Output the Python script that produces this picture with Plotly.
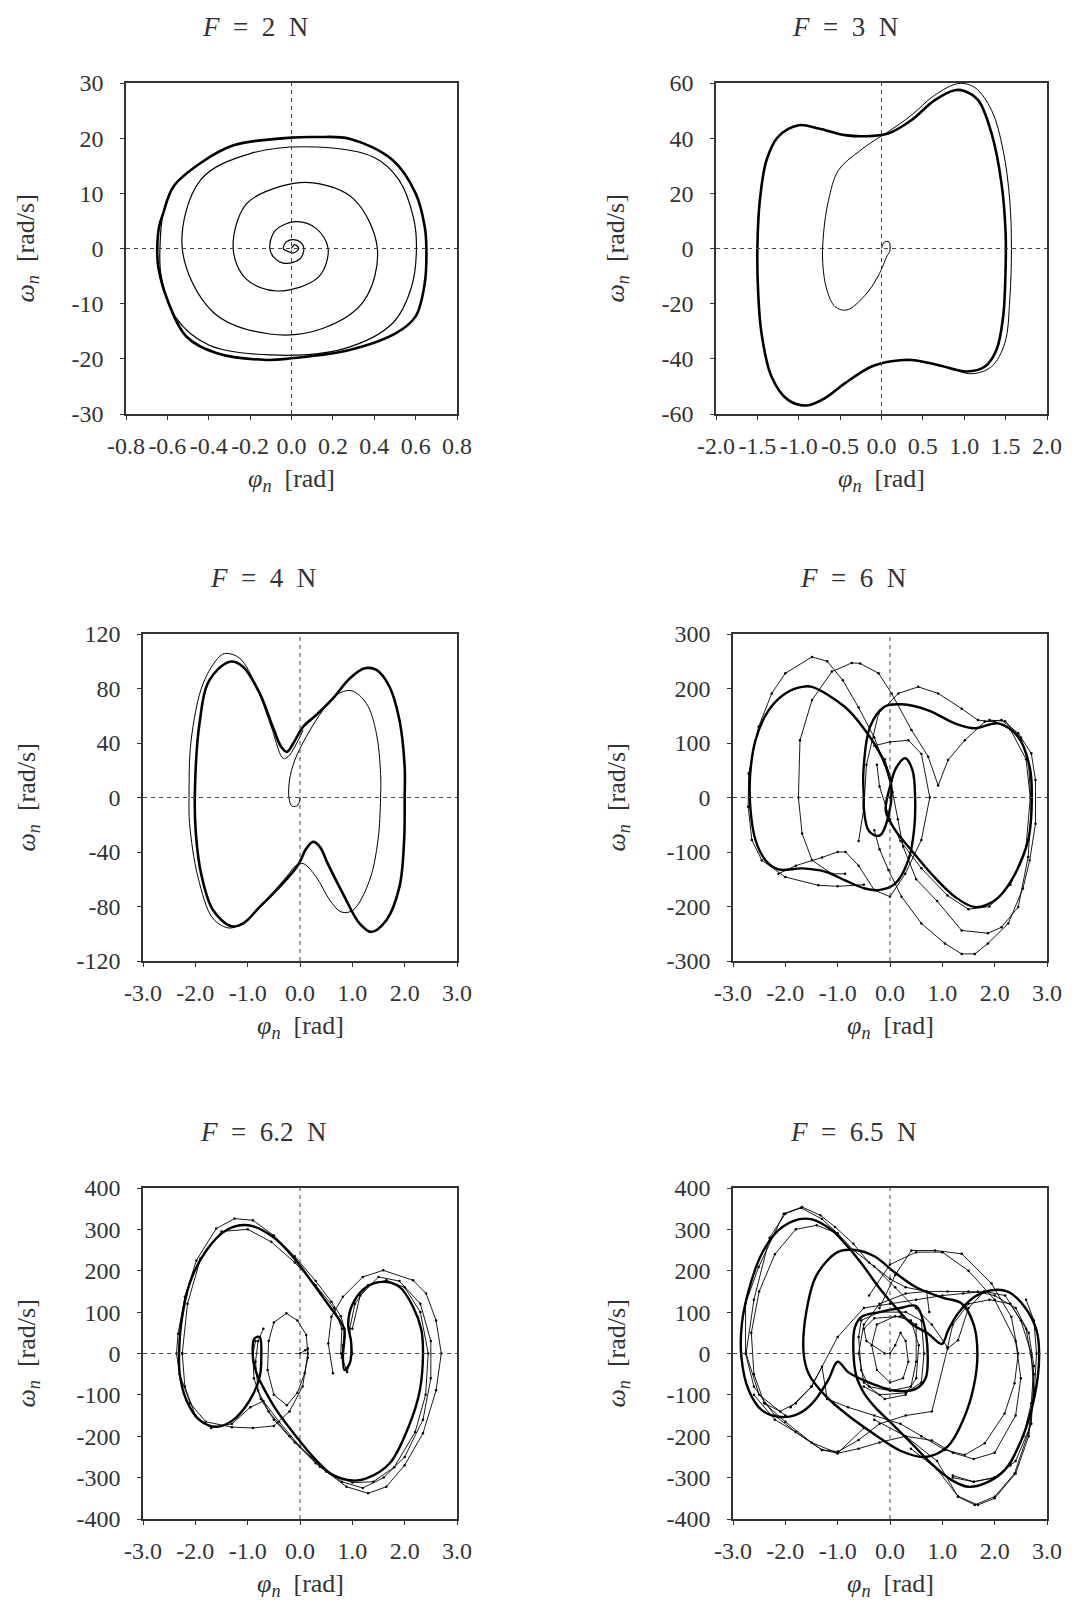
import plotly.graph_objects as go

# ---------------- data ----------------
# F = 2 N
f2_spiral_phi = [0.0, 0.015, 0.035, 0.01, -0.025, -0.04, -0.025, 0.01, 0.045, 0.06, 0.04, -0.03, -0.085, -0.105,
                 -0.08, 0.02, 0.12, 0.177, 0.13, -0.07, -0.22, -0.282, -0.22, -0.05, 0.105, 0.30, 0.415, 0.35, 0.15,
                 -0.105, -0.38, -0.528, -0.44, -0.2, 0.12, 0.4, 0.52, 0.59, 0.604, 0.58, 0.49, 0.25, -0.1, -0.4,
                 -0.56, -0.63, -0.636, -0.62, -0.571, -0.443, -0.28, 0.0]
f2_spiral_omega = [0.0, 0.7, 0.0, -0.8, -0.4, 0.0, 1.2, 1.6, 1.1, 0.0, -1.9, -2.7, -1.6, 0.0,
                   3.2, 4.86, 3.6, 0.0, -5.2, -7.7, -5.5, 0.0, 8.0, 11.3, 11.9, 9.0, 0.0, -9.5, -14.5,
                   -15.5, -11.5, 0.0, 12.4, 17.2, 18.4, 16.5, 12.4, 5.5, 0.0, -7.0, -13.5, -18.2, -19.3, -17.5,
                   -12.5, -5.0, 0.0, 6.4, 11.2, 15.4, 18.7, 20.0]
f2_cycle_phi = [-0.649, -0.64, -0.62, -0.571, -0.443, -0.28, 0.0, 0.12, 0.28, 0.49, 0.60, 0.644, 0.652, 0.644,
                0.60, 0.507, 0.28, 0.0, -0.12, -0.36, -0.507, -0.60, -0.644, -0.649]
f2_cycle_omega = [0.0, 3.95, 6.4, 11.2, 15.4, 18.7, 20.1, 20.2, 19.9, 16.0, 10.0, 3.95, 0.0, -6.3,
                  -12.3, -15.3, -18.4, -19.9, -20.2, -19.0, -16.0, -9.3, -3.3, 0.0]

# F = 3 N
f3_cycle_phi = [-1.50, -1.47, -1.39, -1.25, -1.0, -0.76, -0.44, -0.2, 0.08, 0.36, 0.64, 0.885, 1.0, 1.17, 1.33,
                1.45, 1.50, 1.50, 1.47, 1.39, 1.25, 1.03, 0.68, 0.36, 0.12, -0.12, -0.44, -0.68, -0.905, -1.13,
                -1.33, -1.45, -1.49, -1.50]
f3_cycle_omega = [0.0, 17.5, 32.0, 40.5, 44.7, 43.5, 41.1, 40.7, 41.7, 46.5, 53.7, 57.4, 57.1, 53.7, 41.7,
                  23.6, 5.5, -6.6, -24.7, -36.7, -42.8, -44.6, -42.2, -40.4, -40.9, -42.8, -48.8, -54.2, -56.9, -54.9,
                  -46.4, -30.7, -16.2, 0.0]
f3_trans_phi = [0.0, 0.03, 0.09, 0.10, 0.07, -0.04, -0.2, -0.42, -0.56, -0.66, -0.71, -0.70, -0.64, -0.52, -0.28,
                -0.08, 0.08, 0.36, 0.64, 0.93, 1.13, 1.33, 1.47, 1.55, 1.57, 1.55, 1.49, 1.33, 1.09, 0.76, 0.36]
f3_trans_omega = [0.0, 2.2, 2.4, -1.0, -2.5, -10.0, -17.0, -22.3, -21.1, -15.0, -5.4, 5.5, 17.5, 28.4, 35.0,
                  39.3, 42.3, 48.3, 55.5, 59.8, 58.3, 50.1, 35.6, 17.5, 0.0, -18.6, -34.3, -42.8, -45.4, -42.8, -40.4]

# F = 4 N
f4_cycle_phi = [-2.01, -1.92, -1.73, -1.34, -1.09, -0.77, -0.52, -0.36, -0.25, -0.13, 0.06, 0.31, 0.63, 0.95,
                1.24, 1.46, 1.71, 1.90, 2.0, 2.0, 1.99, 1.90, 1.65, 1.36, 1.14, 0.82, 0.53, 0.38, 0.25, 0.12,
                -0.04, -0.39, -0.77, -1.09, -1.31, -1.66, -1.89, -1.99, -2.01]
f4_cycle_omega = [0.0, 54.4, 86.2, 99.7, 96.0, 76.4, 51.9, 37.2, 33.5, 39.7, 51.9, 60.5, 72.7, 87.4,
                  94.8, 93.6, 81.3, 56.8, 22.5, 0.0, -31.3, -65.6, -90.1, -98.7, -92.6, -70.5, -48.5, -36.2, -32.6,
                  -37.5, -49.7, -65.6, -80.3, -92.6, -94.5, -82.8, -55.8, -26.5, 0.0]
f4_trans_phi = [0.0, -0.04, -0.15, -0.21, -0.2, -0.1, 0.12, 0.44, 0.69, 0.98, 1.27, 1.46, 1.54, 1.54, 1.49,
                1.33, 1.01, 0.79, 0.57, 0.31, 0.06, -0.07, -0.26, -0.71, -1.03, -1.34, -1.66, -1.95, -2.11,
                -2.12, -2.08, -1.85, -1.54, -1.41, -1.15, -0.83, -0.55, -0.32, -0.23, -0.1, 0.06]
f4_trans_omega = [0.0, -5.6, -6.4, -0.7, 12.7, 27.4, 44.6, 64.2, 75.2, 78.4, 69.0, 47.0, 17.6, 0.0, -31.3,
                  -60.7, -82.8, -84.0, -75.4, -58.3, -48.5, -49.7, -58.3, -77.9, -90.1, -95.8, -88.9, -58.3, -19.1,
                  0.0, 42.1, 83.8, 103.4, 105.8, 102.1, 81.3, 51.9, 28.7, 29.9, 37.2, 49.5]

# F = 6 N
f6_main_phi = [-0.5, -0.51, -0.38, -0.1, 0.22, 0.73, 1.24, 1.62, 2.07, 2.45, 2.67, 2.71, 2.64, 2.32, 2.0, 1.62,
               1.24, 0.79, 0.41, 0.1, -0.08, 0.0, 0.12, 0.29, 0.43, 0.48, 0.46, 0.35, 0.1, -0.22, -0.48, -0.86,
               -1.24, -1.68, -2.13, -2.38, -2.57, -2.67, -2.67, -2.57, -2.32, -2.0, -1.68, -1.49, -0.86, -0.48,
               -0.16, 0.02, -0.02, -0.2, -0.4, -0.5, -0.5]
f6_main_omega = [0, 44, 130, 167, 171, 160, 136, 127, 136, 111, 56, 0, -78, -152, -189, -201,
                 -182, -140, -97, -60, -25, 20, 55, 72, 50, 0, -60, -115, -158, -170, -167, -152,
                 -136, -130, -132, -115, -78, -17, 44, 105, 160, 191, 203, 203, 166, 124,
                 75, 25, -30, -70, -62, -20, 0]
f6_t1_phi = [-0.86, -1.11, -1.49, -1.68, -1.75, -1.72, -1.49, -1.11, -0.73, -0.57, -0.22, 0.03, 0.41, 0.73,
             0.92, 1.11, 1.43, 1.81, 2.13, 2.45, 2.70, 2.78, 2.78, 2.67, 2.54, 2.26, 1.87, 1.62, 1.37, 1.05,
             0.6, 0.22, -0.03, -0.2, -0.3]
f6_t1_omega = [-140, -140, -115, -66, 0, 105, 179, 231, 247, 246, 228, 191, 124, 75,
               22, 69, 105, 139, 142, 118, 81, 32, -48, -115, -167, -231, -268, -287, -287, -268,
               -231, -182, -133, -95, -60]
f6_t2_phi = [-0.5, -1.0, -1.37, -2.0, -2.45, -2.64, -2.71, -2.7, -2.51, -2.26, -2.0, -1.49, -1.2, -0.9, -0.6,
             -0.3, -0.1, 0.05, 0.15, 0.25, 0.5, 0.9, 1.37, 1.87, 2.13, 2.45, 2.64, 2.7, 2.65, 2.5, 2.2, 1.9]
f6_t2_omega = [-160, -163, -161, -146, -115, -78, -17, 44, 130, 191, 228, 258, 250, 215, 165,
               110, 60, 10, -40, -90, -150, -190, -244, -249, -238, -201, -109, -20, 60, 110, 140, 142]
f6_t3_phi = [0.0, 0.03, -0.1, -0.3, 0.0, 0.35, 0.6, 0.76, 0.6, 0.29, 0.0, -0.3, -0.6, -0.85, -1.0, -1.3,
             -1.8, -2.13]
f6_t3_omega = [0, 30, 70, 95, 102, 105, 80, 0, -78, -140, -182, -170, -125, -100, -100, -110,
               -125, -140]
f6_t4_phi = [-0.6, -0.5, -0.45, -0.22, 0.16, 0.54, 0.92, 1.37, 1.68, 2.0, 2.3, 2.6, 2.68, 2.6, 2.3, 1.9, 1.5,
             1.1, 0.6, 0.2, 0.0, -0.2, -0.25]
f6_t4_omega = [-80, -20, 60, 154, 191, 203, 191, 163, 142, 139, 125, 70, 0, -90, -160, -200, -205,
               -180, -130, -80, -40, 20, 60]

# F = 6.2 N
f62_main_phi = [-0.99, -0.52, -0.13, 0.25, 0.57, 0.76, 0.85, 0.82, 0.85, 0.95, 0.98, 0.92, 1.01, 1.27, 1.59,
                1.90, 2.16, 2.32, 2.35, 2.29, 2.10, 1.71, 1.27, 1.01, 0.63, 0.31, -0.07, -0.45, -0.71, -0.83,
                -0.90, -0.87, -0.77, -0.74, -0.77, -0.96, -1.28, -1.60, -1.92, -2.17, -2.30, -2.31, -2.27, -2.11,
                -1.79, -1.41, -0.99]
f62_main_omega = [310, 282, 233, 169, 113, 80, 56, -8, -40, -24, 24, 72, 121, 161, 173,
                  161, 113, 56, 0, -89, -169, -266, -302, -307, -294, -258, -201, -137, -80, -48,
                  -8, 36, 40, -8, -56, -113, -161, -177, -161, -113, -48, 0, 72, 169,
                  249, 298, 310]
f62_t1_phi = [0.0, 0.1, 0.15, 0.15, 0.09, -0.05, -0.25, -0.5, -0.62, -0.6, -0.5, -0.26, -0.05, 0.12, 0.15,
              0.05, -0.2, -0.5, -0.9, -1.3, -1.8, -2.1, -2.3, -2.36, -2.33, -2.2, -1.98, -1.6, -1.25, -0.9,
              -0.5, -0.1, 0.3, 0.6, 0.78, 0.85, 0.82, 0.8]
f62_t1_omega = [0, 8, 12, -10, -48, -95, -125, -100, -40, 30, 75, 97, 80, 45, 0,
                -80, -140, -175, -180, -178, -165, -120, -50, 0, 48, 137, 225, 302, 326, 322,
                285, 235, 175, 125, 90, 60, 20, -10]
f62_t2_phi = [0.63, 0.54, 0.6, 0.82, 1.2, 1.59, 2.16, 2.41, 2.6, 2.7, 2.6, 2.35, 2.0, 1.65, 1.3, 0.89, 0.38,
              -0.1, -0.5, -0.75, -0.88, -0.9, -0.85]
f62_t2_omega = [-48, 24, 89, 137, 185, 201, 177, 145, 80, 0, -89, -193, -270, -322, -338, -322, -274,
                -215, -160, -110, -60, 0, 30]
f62_t3_phi = [-2.25, -2.15, -1.9, -1.5, -1.0, -0.55, -0.1, 0.3, 0.65, 0.8, 0.78, 0.9, 1.0, 0.95, 1.05, 1.3,
              1.65, 2.0, 2.3, 2.45, 2.4, 2.2, 1.8, 1.4, 1.0, 0.5, 0.0, -0.4, -0.7, -0.95, -1.3, -1.7, -2.0,
              -2.2, -2.25]
f62_t3_omega = [0, 120, 230, 295, 300, 270, 220, 165, 110, 60, 0, -45, 0, 60, 120, 165,
                177, 160, 100, 0, -100, -190, -275, -310, -312, -285, -225, -165, -115, -130, -170, -180, -150,
                -80, 0]
f62_t4_phi = [1.0, 1.15, 1.5, 1.9, 2.3, 2.5, 2.5, 2.35, 2.0, 1.6, 1.2, 0.8, 0.3, -0.2, -0.6, -0.8, -0.85,
              -0.8, -0.7]
f62_t4_omega = [60, 140, 185, 175, 120, 30, -60, -160, -250, -300, -325, -310, -265, -200, -140, -90, -20,
                30, 60]

# F = 6.5 N
f65_a_phi = [-1.0, -1.18, -1.49, -1.81, -2.13, -2.45, -2.70, -2.84, -2.83, -2.70, -2.45, -2.13, -1.75, -1.49,
             -1.11, -0.86, -0.54, -0.22, 0.1, 0.41, 0.73, 0.99, 1.11, 1.30, 1.62, 1.94, 2.26, 2.57, 2.80, 2.85,
             2.76, 2.51, 2.19, 1.81, 1.49, 1.18, 0.79, 0.41, 0.03, -0.29, -0.5, -0.64, -0.70, -0.67, -0.54,
             -0.2, 0.2, 0.5, 0.65, 0.72, 0.68, 0.5, 0.1, -0.3, -0.55, -0.8, -1.0]
f65_a_omega = [-20, -64, -121, -149, -153, -137, -89, -8, 72, 153, 241, 298, 324, 324,
               298, 266, 217, 161, 113, 72, 48, 23, 56, 97, 137, 153, 149, 113, 56, -8,
               -105, -209, -282, -314, -322, -306, -266, -217, -169, -129, -95, -56, 8, 64, 89,
               100, 110, 115, 70, 0, -60, -85, -90, -75, -62, -45, -20]
f65_b_phi = [-1.65, -1.6, -1.4, -1.0, -0.67, -0.3, 0.1, 0.5, 1.0, 1.37, 1.6, 1.67, 1.6, 1.4, 1.1, 0.67, 0.2,
             -0.3, -0.8, -1.25, -1.55, -1.65]
f65_b_omega = [0, 100, 190, 245, 250, 235, 195, 160, 135, 121, 70, 0, -80, -160, -225, -250, -235,
               -195, -150, -100, -50, 0]
f65_t1_phi = [0.0, 0.1, 0.2, 0.3, 0.35, 0.25, 0.0, -0.25, -0.35, -0.25, 0.1, 0.4, 0.55, 0.5, 0.3, -0.1, -0.5,
              -0.6, -0.5, -0.2, 0.3, 0.7, 0.75]
f65_t1_omega = [0, 20, 50, 30, -20, -60, -70, -40, 20, 70, 90, 80, 20, -60, -100, -110, -70,
                0, 70, 120, 145, 150, 100]
f65_t2_phi = [-2.0, -2.5, -2.75, -2.6, -2.3, -2.0, -1.7, -1.3, -1.0, -0.7, -0.3, 0.1, 0.5, 0.8, 1.1, 1.2, 1.5,
              1.9, 2.3, 2.6, 2.75, 2.7, 2.4, 2.0, 1.6, 1.2]
f65_t2_omega = [-150, -100, 0, 130, 280, 338, 352, 325, 290, 250, 210, 160, 110, 70, 15, 70, 120,
                130, 120, 60, -50, -170, -260, -300, -310, -295]
f65_t3_phi = [-0.4, 0.0, 0.5, 1.0, 1.5, 2.0, 2.4, 2.5, 2.4, 2.0, 1.6, 1.2, 0.8, 0.3, -0.2, -0.6, -1.0, -1.5,
              -2.0, -2.4]
f65_t3_omega = [140, 215, 245, 245, 200, 130, 30, -60, -150, -240, -255, -240, -210, -200, -215, -230,
                -241, -215, -165, -120]
f65_t4_phi = [0.4, 0.9, 1.3, 1.68, 2.0, 2.4, 2.65, 2.75, 2.7, 2.5, 2.2, 1.8, 1.4, 1.0, 0.5, 0.0, -0.5, -1.0,
              -1.5, -1.9]
f65_t4_omega = [-230, -280, -345, -366, -350, -290, -200, -100, 0, 80, 140, 150, 145, 140, 130, 120,
                110, 40, -80, -130]
f65_t5_phi = [-0.5, -1.0, -1.3, -1.8, -2.2, -2.6, -2.76, -2.76, -2.51, -2.03, -1.68, -1.33, -1.05, -0.7, -0.4,
              0.0, 0.3, 0.7, 1.1, 1.5, 1.68, 2.0, 2.4, 2.65, 2.75, 2.7, 2.55, 2.3, 2.0, 1.6, 1.2]
f65_t5_omega = [-180, -241, -233, -190, -150, -80, 0, 121, 209, 338, 354, 334, 306, 265, 220,
                180, 160, 150, 150, 150, 149, 140, 110, 50, -30, -120, -200, -270, -300, -310, -300]
f65_t6_phi = [-0.2, 0.1, 0.41, 0.86, 1.37, 1.94, 2.32, 2.45, 2.38, 2.19, 1.81, 1.43, 1.05, 0.6, 0.2, -0.3,
              -0.8, -1.2, -1.3, -1.5, -1.8, -2.1, -2.4, -2.6, -2.65, -2.5, -2.2, -1.8, -1.4, -1.0]
f65_t6_omega = [110, 190, 249, 249, 241, 169, 88, 0, -72, -145, -217, -245, -233, -200, -170, -150,
                -130, -110, -32, -80, -120, -140, -120, -50, 50, 150, 240, 300, 310, 290]
f65_t7_phi = [-0.3, 0.3, 0.9, 1.30, 1.62, 2.0, 2.38, 2.64, 2.76, 2.8, 2.75, 2.6]
f65_t7_omega = [-160, -200, -260, -346, -366, -346, -290, -193, -89, 0, 80, 130]
f65_t8_phi = [-2.6, -2.2, -1.8, -1.3, -0.99, -0.6, -0.2, 0.3, 0.8, 1.1, 1.3, 1.5, 1.8]
f65_t8_omega = [-100, -160, -190, -233, -237, -209, -170, -150, -140, 12, 32, 110, 150]
f65_t9_phi = [-0.1, -0.45, -0.5, -0.3, 0.2, 0.5, 0.5, 0.4, 0.0, -0.4, -0.55, -0.6, -0.55, -0.2, 0.3, 0.6,
              0.65, 0.6, 0.3, -0.2, -0.5]
f65_t9_omega = [0, 30, 60, 85, 90, 70, -20, -80, -90, -80, -40, 40, 80, 100, 100, 80,
                0, -70, -95, -100, -80]

panels = [
    {"title": "<i>F</i>\u2002=\u20022\u2002N", "xr": [-0.8, 0.8], "yr": [-30, 30],
     "xt": [-0.8, -0.6, -0.4, -0.2, 0.0, 0.2, 0.4, 0.6, 0.8],
     "xl": ["-0.8", "-0.6", "-0.4", "-0.2", "0.0", "0.2", "0.4", "0.6", "0.8"],
     "yt": [-30, -20, -10, 0, 10, 20, 30], "yl": ["-30", "-20", "-10", "0", "10", "20", "30"],
     "box": (126, 457, 83, 414)},
    {"title": "<i>F</i>\u2002=\u20023\u2002N", "xr": [-2, 2], "yr": [-60, 60],
     "xt": [-2.0, -1.5, -1.0, -0.5, 0.0, 0.5, 1.0, 1.5, 2.0],
     "xl": ["-2.0", "-1.5", "-1.0", "-0.5", "0.0", "0.5", "1.0", "1.5", "2.0"],
     "yt": [-60, -40, -20, 0, 20, 40, 60], "yl": ["-60", "-40", "-20", "0", "20", "40", "60"],
     "box": (716, 1047, 83, 414)},
    {"title": "<i>F</i>\u2002=\u20024\u2002N", "xr": [-3, 3], "yr": [-120, 120],
     "xt": [-3, -2, -1, 0, 1, 2, 3], "xl": ["-3.0", "-2.0", "-1.0", "0.0", "1.0", "2.0", "3.0"],
     "yt": [-120, -80, -40, 0, 40, 80, 120], "yl": ["-120", "-80", "-40", "0", "40", "80", "120"],
     "box": (143, 457, 634, 961)},
    {"title": "<i>F</i>\u2002=\u20026\u2002N", "xr": [-3, 3], "yr": [-300, 300],
     "xt": [-3, -2, -1, 0, 1, 2, 3], "xl": ["-3.0", "-2.0", "-1.0", "0.0", "1.0", "2.0", "3.0"],
     "yt": [-300, -200, -100, 0, 100, 200, 300], "yl": ["-300", "-200", "-100", "0", "100", "200", "300"],
     "box": (733, 1047, 634, 961)},
    {"title": "<i>F</i>\u2002=\u20026.2\u2002N", "xr": [-3, 3], "yr": [-400, 400],
     "xt": [-3, -2, -1, 0, 1, 2, 3], "xl": ["-3.0", "-2.0", "-1.0", "0.0", "1.0", "2.0", "3.0"],
     "yt": [-400, -300, -200, -100, 0, 100, 200, 300, 400],
     "yl": ["-400", "-300", "-200", "-100", "0", "100", "200", "300", "400"],
     "box": (143, 457, 1188, 1519)},
    {"title": "<i>F</i>\u2002=\u20026.5\u2002N", "xr": [-3, 3], "yr": [-400, 400],
     "xt": [-3, -2, -1, 0, 1, 2, 3], "xl": ["-3.0", "-2.0", "-1.0", "0.0", "1.0", "2.0", "3.0"],
     "yt": [-400, -300, -200, -100, 0, 100, 200, 300, 400],
     "yl": ["-400", "-300", "-200", "-100", "0", "100", "200", "300", "400"],
     "box": (733, 1047, 1188, 1519)},
]

# curves: (panel index, x, y, width, smooth, markers)
curves = [
    (0, f2_spiral_phi, f2_spiral_omega, 1.2, True, False),
    (0, f2_cycle_phi, f2_cycle_omega, 2.6, True, False),
    (1, f3_trans_phi, f3_trans_omega, 1.0, True, False),
    (1, f3_cycle_phi, f3_cycle_omega, 2.6, True, False),
    (2, f4_trans_phi, f4_trans_omega, 1.0, True, False),
    (2, f4_cycle_phi, f4_cycle_omega, 2.6, True, False),
    (3, f6_t1_phi, f6_t1_omega, 0.9, False, True),
    (3, f6_t2_phi, f6_t2_omega, 0.9, False, True),
    (3, f6_t3_phi, f6_t3_omega, 0.9, False, True),
    (3, f6_t4_phi, f6_t4_omega, 0.9, False, True),
    (3, f6_main_phi, f6_main_omega, 2.4, True, False),
    (4, f62_t1_phi, f62_t1_omega, 0.9, False, True),
    (4, f62_t2_phi, f62_t2_omega, 0.9, False, True),
    (4, f62_t3_phi, f62_t3_omega, 0.9, False, True),
    (4, f62_t4_phi, f62_t4_omega, 0.9, False, True),
    (4, f62_main_phi, f62_main_omega, 2.4, True, False),
    (5, f65_t1_phi, f65_t1_omega, 0.9, False, True),
    (5, f65_t2_phi, f65_t2_omega, 0.9, False, True),
    (5, f65_t3_phi, f65_t3_omega, 0.9, False, True),
    (5, f65_t4_phi, f65_t4_omega, 0.9, False, True),
    (5, f65_t5_phi, f65_t5_omega, 0.9, False, True),
    (5, f65_t6_phi, f65_t6_omega, 0.9, False, True),
    (5, f65_t7_phi, f65_t7_omega, 0.9, False, True),
    (5, f65_t8_phi, f65_t8_omega, 0.9, False, True),
    (5, f65_t9_phi, f65_t9_omega, 0.9, False, True),
    (5, f65_b_phi, f65_b_omega, 2.4, True, False),
    (5, f65_a_phi, f65_a_omega, 2.4, True, False),
]

# ---------------- figure ----------------
W, H = 1090, 1611
OFF = 8  # page body margin of the html output
FONT = "Liberation Serif"
TXT = "#333333"
fig = go.Figure()

for (p, xs, ys, w, smooth, mk) in curves:
    sfx = "" if p == 0 else str(p + 1)
    fig.add_trace(go.Scatter(
        x=xs, y=ys, xaxis="x" + sfx, yaxis="y" + sfx,
        mode="lines+markers" if mk else "lines",
        line=dict(color="black", width=w, shape="spline" if smooth else "linear", smoothing=1.0),
        marker=dict(size=2.5, color="black"),
        showlegend=False, hoverinfo="skip"))


def px(v):
    return (v - OFF) / W


def py(v):
    return 1 - (v - OFF) / H


annotations = []
shapes = []
for i, pn in enumerate(panels):
    l, r, t, b = pn["box"]
    sfx = "" if i == 0 else str(i + 1)
    ax = dict(domain=[px(l), px(r)], range=pn["xr"], tickmode="array", tickvals=pn["xt"], ticktext=pn["xl"],
              showline=True, mirror=True, linecolor="#333", linewidth=1.5, ticks="outside", ticklen=4,
              tickcolor="#333", showgrid=False, zeroline=False, anchor="y" + sfx, automargin=False,
              tickfont=dict(family=FONT, size=24, color=TXT), ticklabelstandoff=5)
    ay = dict(domain=[py(b), py(t)], range=pn["yr"], tickmode="array", tickvals=pn["yt"], ticktext=pn["yl"],
              showline=True, mirror=True, linecolor="#333", linewidth=1.5, ticks="outside", ticklen=4,
              tickcolor="#333", showgrid=False, zeroline=False, anchor="x" + sfx, automargin=False,
              tickfont=dict(family=FONT, size=24, color=TXT), ticklabelstandoff=12)
    fig.update_layout(**{"xaxis" + sfx: ax, "yaxis" + sfx: ay})
    shapes.append(dict(type="line", xref="x" + sfx, yref="y" + sfx + " domain", x0=0, x1=0, y0=0, y1=1,
                       line=dict(color="#444", width=1, dash="4px,4px")))
    shapes.append(dict(type="line", xref="x" + sfx + " domain", yref="y" + sfx, x0=0, x1=1, y0=0, y1=0,
                       line=dict(color="#444", width=1, dash="4px,4px")))
    cx = (l + r) / 2
    annotations.append(dict(text=pn["title"], x=px(cx - 37), y=py(t - 56), xref="paper", yref="paper",
                            showarrow=False, xanchor="center", yanchor="middle",
                            font=dict(family=FONT, size=27, color=TXT)))
    annotations.append(dict(text="<i>φ</i><sub><i>n</i></sub>\u2002[rad]", x=px(cx), y=py(b + 66),
                            xref="paper", yref="paper", showarrow=False, xanchor="center", yanchor="middle",
                            font=dict(family=FONT, size=26, color=TXT)))
    yx = 27 if l < 500 else 617
    annotations.append(dict(text="<i>ω</i><sub><i>n</i></sub>\u2002[rad/s]", x=px(yx), y=py((t + b) / 2),
                            xref="paper", yref="paper", showarrow=False, xanchor="center", yanchor="middle",
                            textangle=-90, font=dict(family=FONT, size=26, color=TXT)))

fig.update_layout(width=W, height=H, margin=dict(l=0, r=0, t=0, b=0, autoexpand=False), paper_bgcolor="white",
                  plot_bgcolor="white", annotations=annotations, shapes=shapes, showlegend=False)
fig.write_html("out.html")
